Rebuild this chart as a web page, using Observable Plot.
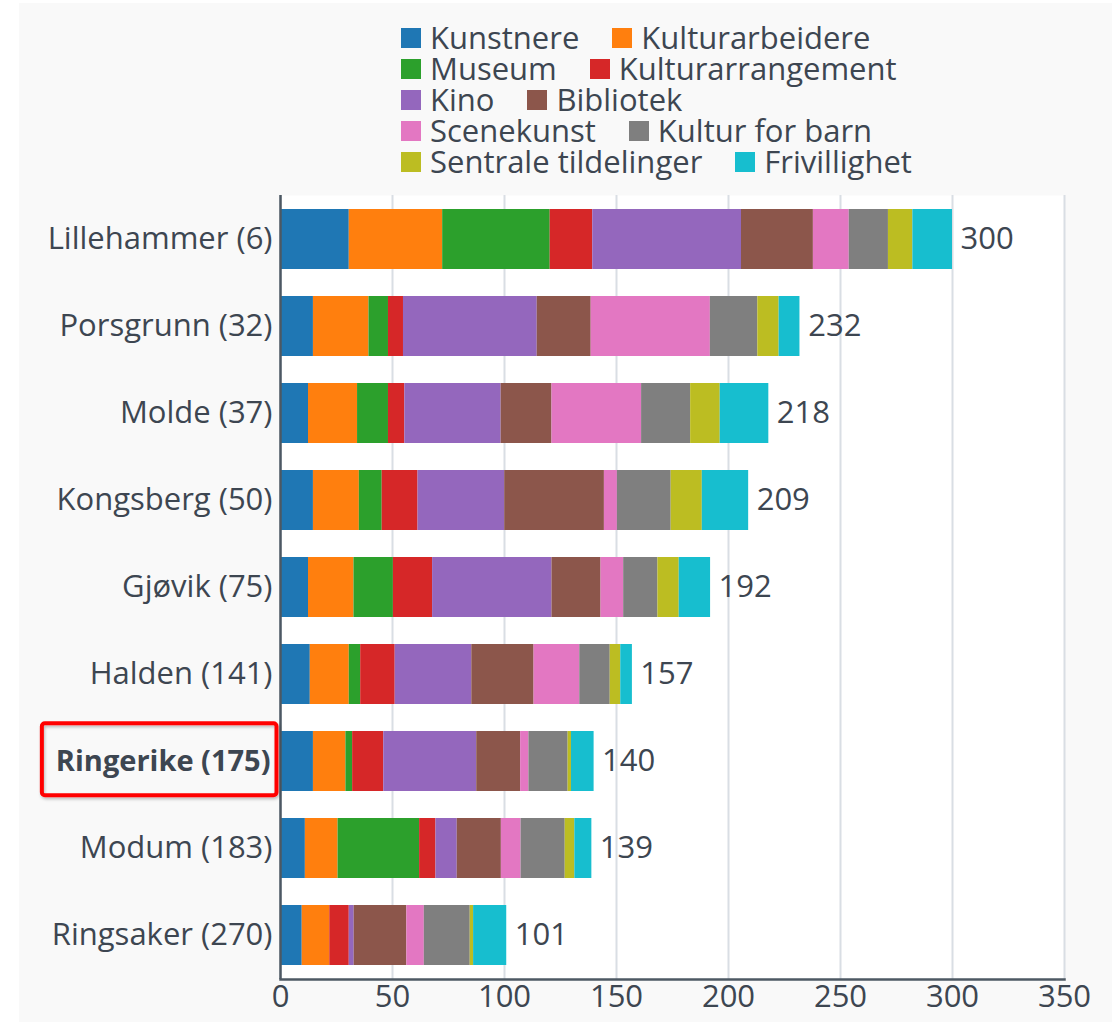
<!DOCTYPE html>
<html>
<head>
<meta charset="utf-8">
<script src="https://cdn.jsdelivr.net/npm/d3@7"></script>
<script src="https://cdn.jsdelivr.net/npm/@observablehq/plot@0.6"></script>
<style>
  html, body { margin: 0; padding: 0; background: #ffffff; }
  #panel { position: absolute; left: 19px; top: 3px; width: 1093px; height: 1019px; background: #f9f9f9; }
  #legend { position: absolute; left: 401px; top: 22px; font-family: "Open Sans", sans-serif; font-size: 31px; color: #3d4651; line-height: 31px; }
  #legend .row { white-space: nowrap; height: 31px; display: flex; align-items: center; }
  #legend .item { display: inline-flex; align-items: center; margin-right: 33px; }
  #legend .sw { width: 20px; height: 20px; margin-right: 9px; display: inline-block; }
  #chart { position: absolute; left: 0; top: 180px; }
</style>
</head>
<body>
<div id="panel"></div>
<div id="legend"></div>
<div id="chart"></div>
<script>
const municipalities = ["Lillehammer (6)", "Porsgrunn (32)", "Molde (37)", "Kongsberg (50)", "Gjøvik (75)", "Halden (141)", "Ringerike (175)", "Modum (183)", "Ringsaker (270)"];
const highlighted = "Ringerike (175)";
const seriesNames = ["Kunstnere", "Kulturarbeidere", "Museum", "Kulturarrangement", "Kino", "Bibliotek", "Scenekunst", "Kultur for barn", "Sentrale tildelinger", "Frivillighet"];
const seriesColors = ["#1f77b4", "#ff7f0e", "#2ca02c", "#d62728", "#9467bd", "#8c564b", "#e377c2", "#7f7f7f", "#bcbd22", "#17becf"];

const kunstnere          = [30.7, 14.7, 12.5, 14.7, 12.5, 13.3, 14.7, 11.1, 9.7];
const kulturarbeidere    = [41.7, 24.8, 21.9, 20.5, 20.3, 17.4, 14.5, 14.6, 12.3];
const museum             = [48.0, 8.7, 13.8, 10.2, 17.6, 5.1, 3.0, 36.4, 0];
const kulturarrangement  = [19.0, 6.7, 7.3, 16.0, 17.5, 15.4, 13.9, 7.3, 8.7];
const kino               = [66.4, 59.7, 43.0, 38.7, 53.3, 34.2, 41.5, 9.5, 2.2];
const bibliotek          = [32.1, 24.1, 22.7, 44.5, 21.9, 27.8, 19.6, 19.7, 23.5];
const scenekunst         = [16.0, 53.2, 40.0, 5.8, 10.1, 20.4, 3.7, 8.8, 7.8];
const kulturForBarn      = [17.5, 21.2, 21.9, 24.0, 15.3, 13.6, 17.5, 19.7, 20.5];
const sentraleTildelinger= [10.9, 9.5, 13.2, 13.9, 9.5, 4.7, 1.5, 4.3, 1.5];
const frivillighet       = [17.7, 9.3, 21.7, 20.7, 14.0, 5.2, 10.1, 7.6, 14.8];
const totals             = [300, 232, 218, 209, 192, 157, 140, 139, 101];
const xTicks = [0, 50, 100, 150, 200, 250, 300, 350];

const seriesValues = [kunstnere, kulturarbeidere, museum, kulturarrangement, kino, bibliotek, scenekunst, kulturForBarn, sentraleTildelinger, frivillighet];

const data = [];
municipalities.forEach((m, i) => {
  seriesNames.forEach((s, j) => {
    data.push({ name: m, series: s, value: seriesValues[j][i] });
  });
});
const totalsData = municipalities.map((m, i) => ({ name: m, total: totals[i] }));

// Legend (HTML, above the SVG)
const legend = document.getElementById("legend");
for (let r = 0; r < seriesNames.length; r += 2) {
  const row = document.createElement("div");
  row.className = "row";
  for (let k = r; k < Math.min(r + 2, seriesNames.length); k++) {
    const item = document.createElement("span");
    item.className = "item";
    const sw = document.createElement("span");
    sw.className = "sw";
    sw.style.background = seriesColors[k];
    item.appendChild(sw);
    item.appendChild(document.createTextNode(seriesNames[k]));
    row.appendChild(item);
  }
  legend.appendChild(row);
}

const textColor = "#3d4651";
const axisColor = "#4d5863";

const chart = Plot.plot({
  width: 1112,
  height: 842,
  marginLeft: 280,
  marginRight: 48,
  marginTop: 15,
  marginBottom: 43,
  style: { background: "transparent", fontFamily: "'Open Sans', sans-serif", fontSize: "31px", color: textColor },
  x: { domain: [0, 350], label: null },
  y: { domain: municipalities, paddingInner: 0.31, paddingOuter: 0.155, label: null },
  color: { domain: seriesNames, range: seriesColors },
  marks: [
    Plot.frame({ fill: "#ffffff", stroke: null }),
    Plot.gridX(xTicks, { stroke: "#d9dee4", strokeOpacity: 1, strokeWidth: 2 }),
    Plot.barX(data, { x: "value", y: "name", fill: "series" }),
    Plot.ruleX([0], { stroke: axisColor, strokeWidth: 2.5 }),
    Plot.frame({ anchor: "bottom", stroke: axisColor, strokeWidth: 2.5 }),
    Plot.axisX(xTicks, { tickSize: 0, tickPadding: 5, fill: textColor, fontSize: 31, label: null }),
    Plot.axisY(municipalities.filter(d => d !== highlighted), { tickSize: 0, tickPadding: 8, fill: textColor, fontSize: 31, label: null }),
    Plot.axisY([highlighted], { tickSize: 0, tickPadding: 10, fill: textColor, fontSize: 29, fontWeight: "bold", label: null }),
    Plot.text(totalsData, { x: "total", y: "name", text: d => String(d.total), dx: 8, textAnchor: "start", fill: textColor, fontSize: 31 })
  ]
});
document.getElementById("chart").appendChild(chart);

// Red highlight box around the bold label, sized from its rendered bbox
const ns = "http://www.w3.org/2000/svg";
const hlText = Array.from(chart.querySelectorAll("text")).find(t => t.textContent === highlighted);
if (hlText) {
  const bb = hlText.getBBox();
  const pt = chart.createSVGPoint();
  const m = hlText.getScreenCTM();
  const sm = chart.getScreenCTM().inverse();
  pt.x = bb.x; pt.y = bb.y;
  const p1 = pt.matrixTransform(m).matrixTransform(sm);
  pt.x = bb.x + bb.width; pt.y = bb.y + bb.height;
  const p2 = pt.matrixTransform(m).matrixTransform(sm);
  const cy = (p1.y + p2.y) / 2;
  const defs = document.createElementNS(ns, "defs");
  defs.innerHTML = '<filter id="sh" x="-10%" y="-20%" width="130%" height="150%"><feDropShadow dx="1" dy="2" stdDeviation="1.5" flood-color="#000" flood-opacity="0.25"/></filter>';
  chart.appendChild(defs);
  const rect = document.createElementNS(ns, "rect");
  rect.setAttribute("x", p1.x - 14);
  rect.setAttribute("y", cy - 36);
  rect.setAttribute("width", (p2.x - p1.x) + 20);
  rect.setAttribute("height", 72);
  rect.setAttribute("rx", 3);
  rect.setAttribute("fill", "none");
  rect.setAttribute("stroke", "#ff0000");
  rect.setAttribute("stroke-width", 4);
  rect.setAttribute("filter", "url(#sh)");
  chart.appendChild(rect);
}
</script>
</body>
</html>
